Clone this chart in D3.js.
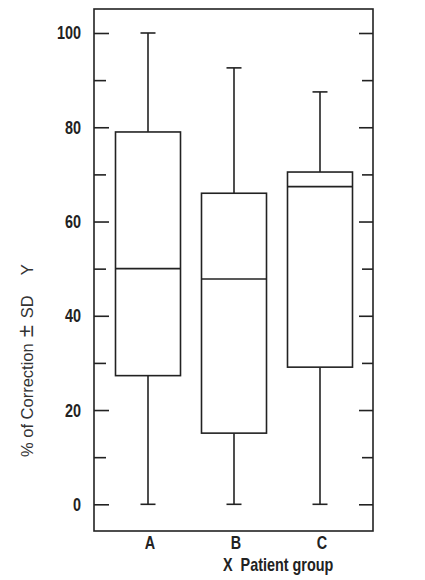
<!DOCTYPE html>
<html>
<head>
<meta charset="utf-8">
<script src="https://cdn.jsdelivr.net/npm/d3@7"></script>
<style>
  body { margin: 0; background: #fff; }
  svg { display: block; }
</style>
</head>
<body>
<div id="chart"></div>
<script>
// Values
let groups = ["A", "B", "C"];
let whiskerHigh = [100, 92.6, 87.5];
let q3 = [79, 66, 70.5];
let medians = [50, 47.8, 67.4];
let q1 = [27.3, 15.1, 29.1];
let whiskerLow = [0, 0, 0];
let majorTicks = [0, 20, 40, 60, 80, 100];
let minorTicks = [10, 30, 50, 70, 90];

let width = 425, height = 580;
let frame = { left: 94, right: 373, top: 9, bottom: 531 };
let ink = "#222";
let labelFont = "'Liberation Sans', Arial, sans-serif";
let squeeze = 0.8; // the original lettering is a condensed face

let svg = d3.select("#chart").append("svg")
    .attr("width", width)
    .attr("height", height);

let x = d3.scalePoint()
    .domain(groups)
    .range([148, 320]);
let y = d3.scaleLinear()
    .domain([0, 100])
    .range([504.3, 33]);

let boxes = groups.map((g, i) => ({
    group: g, hi: whiskerHigh[i], q3: q3[i], med: medians[i], q1: q1[i], lo: whiskerLow[i]
}));

// Plot frame
svg.append("rect")
    .attr("x", frame.left)
    .attr("y", frame.top)
    .attr("width", frame.right - frame.left)
    .attr("height", frame.bottom - frame.top)
    .attr("fill", "none")
    .attr("stroke", ink)
    .attr("stroke-width", 1.6);

// Left and right ticks (pointing inward)
let leftAxis = svg.append("g")
    .attr("transform", `translate(${frame.left},0)`)
    .call(d3.axisRight(y).tickValues(majorTicks).tickSize(15).tickFormat(""));
let leftMinor = svg.append("g")
    .attr("transform", `translate(${frame.left},0)`)
    .call(d3.axisRight(y).tickValues(minorTicks).tickSize(12).tickFormat(""));
let rightAxis = svg.append("g")
    .attr("transform", `translate(${frame.right},0)`)
    .call(d3.axisLeft(y).tickValues(majorTicks).tickSize(14).tickFormat(""));
let rightMinor = svg.append("g")
    .attr("transform", `translate(${frame.right},0)`)
    .call(d3.axisLeft(y).tickValues(minorTicks).tickSize(11).tickFormat(""));

for (let g of [leftAxis, leftMinor, rightAxis, rightMinor]) {
    g.select(".domain").remove();
    g.selectAll(".tick line").attr("stroke", ink).attr("stroke-width", 1.6);
}

// Y tick labels
svg.append("g").selectAll("text")
    .data(majorTicks)
    .enter()
    .append("text")
    .attr("transform", d => `translate(81,${y(d)}) scale(${squeeze},1)`)
    .attr("dy", "0.36em")
    .attr("text-anchor", "end")
    .style("font-family", labelFont)
    .style("font-weight", "bold")
    .style("font-size", "18px")
    .style("fill", ink)
    .text(d => d);

// Boxes
let boxW = 65, capW = 15;
let bx = svg.append("g").selectAll("g")
    .data(boxes)
    .enter()
    .append("g")
    .attr("stroke", ink)
    .attr("stroke-width", 1.6)
    .attr("fill", "none");

// whiskers
bx.append("line")
    .attr("x1", d => x(d.group)).attr("x2", d => x(d.group))
    .attr("y1", d => y(d.q3)).attr("y2", d => y(d.hi));
bx.append("line")
    .attr("x1", d => x(d.group)).attr("x2", d => x(d.group))
    .attr("y1", d => y(d.q1)).attr("y2", d => y(d.lo));
bx.append("line")
    .attr("x1", d => x(d.group) - capW / 2).attr("x2", d => x(d.group) + capW / 2)
    .attr("y1", d => y(d.hi)).attr("y2", d => y(d.hi));
bx.append("line")
    .attr("x1", d => x(d.group) - capW / 2).attr("x2", d => x(d.group) + capW / 2)
    .attr("y1", d => y(d.lo)).attr("y2", d => y(d.lo));
// box + median
bx.append("rect")
    .attr("x", d => x(d.group) - boxW / 2)
    .attr("y", d => y(d.q3))
    .attr("width", boxW)
    .attr("height", d => y(d.q1) - y(d.q3))
    .attr("fill", "#fff");
bx.append("line")
    .attr("x1", d => x(d.group) - boxW / 2).attr("x2", d => x(d.group) + boxW / 2)
    .attr("y1", d => y(d.med)).attr("y2", d => y(d.med));

// X category labels
svg.append("g").selectAll("text")
    .data(groups)
    .enter()
    .append("text")
    .attr("transform", d => `translate(${x(d) + 2},549) scale(${squeeze},1)`)
    .attr("text-anchor", "middle")
    .style("font-family", labelFont)
    .style("font-weight", "bold")
    .style("font-size", "18px")
    .style("fill", ink)
    .text(d => d);

// X title
svg.append("text")
    .attr("transform", `translate(223,571) scale(${squeeze},1)`)
    .style("font-family", labelFont)
    .style("font-weight", "bold")
    .style("font-size", "18px")
    .style("fill", ink)
    .style("white-space", "pre")
    .text("X  Patient group");

// Y title
let yTitle = svg.append("text")
    .attr("transform", "translate(33,457) rotate(-90)")
    .style("font-family", "'Liberation Sans', Arial, sans-serif")
    .style("font-size", "16.5px")
    .style("fill", "#333");
yTitle.append("tspan").text("% of Correction");
yTitle.append("tspan").attr("dx", 6).style("font-size", "22px").style("font-weight", "300").text("±");
yTitle.append("tspan").attr("dx", 7).text("SD");
yTitle.append("tspan").attr("dx", 20).text("Y");
</script>
</body>
</html>
